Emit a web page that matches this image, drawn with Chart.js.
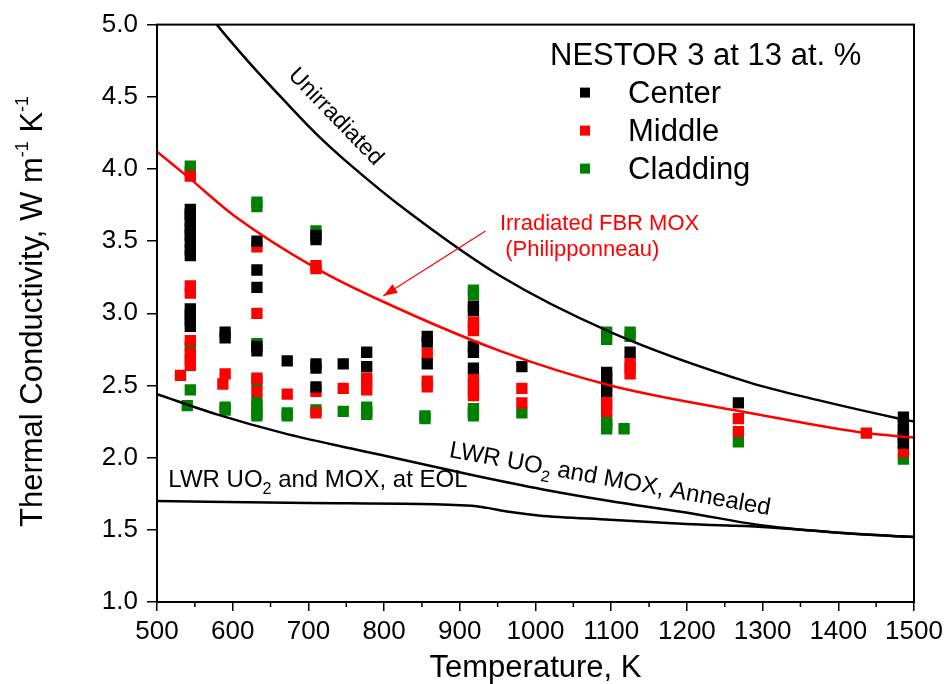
<!DOCTYPE html>
<html>
<head>
<meta charset="utf-8">
<script src="https://cdn.jsdelivr.net/npm/chart.js@4.4.0/dist/chart.umd.min.js"></script>
<style>
  html, body { margin: 0; padding: 0; background: #fff; }
  #wrap { width: 950px; height: 684px; position: relative; }
</style>
</head>
<body>
<div id="wrap"><canvas id="thermalChart"></canvas></div>
<script>
const FONT = '"Liberation Sans", Arial, sans-serif';

// Measured points, grouped by temperature column (K)
const centerTemp = [544, 590, 632, 672, 710, 746, 777, 857, 918, 982, 1094, 1125, 1268, 1486];
const centerK = [
  [3.72, 3.68, 3.64, 3.59, 3.54, 3.49, 3.44, 3.40, 3.03, 2.99, 2.95, 2.91],
  [2.87, 2.83],
  [3.50, 3.30, 3.18, 2.77, 2.74],
  [2.67],
  [3.54, 3.51, 2.65, 2.62, 2.49],
  [2.65],
  [2.73, 2.63],
  [2.84, 2.80, 2.65],
  [3.05, 3.02, 2.77, 2.73, 2.62],
  [2.63],
  [2.59, 2.55, 2.50, 2.46],
  [2.73],
  [2.38],
  [2.28, 2.24, 2.19, 2.14, 2.10]
];

const middleTemp = [531, 544, 587, 590, 632, 672, 710, 746, 777, 857, 918, 982, 1094, 1125, 1268, 1437, 1486];
const middleK = [
  [2.57],
  [3.95, 3.69, 3.57, 3.19, 3.14, 2.81, 2.72, 2.68, 2.64],
  [2.51],
  [2.58],
  [3.46, 3.00, 2.55, 2.46],
  [2.44],
  [3.33, 3.31, 2.46, 2.31],
  [2.48],
  [2.55, 2.52, 2.47],
  [2.72, 2.53, 2.49],
  [2.94, 2.91, 2.88, 2.55, 2.51, 2.47, 2.43],
  [2.48, 2.38],
  [2.40, 2.36, 2.32],
  [2.66, 2.62, 2.58],
  [2.27, 2.18],
  [2.17],
  [2.16, 2.04]
];

const claddingTemp = [540, 544, 590, 632, 672, 710, 746, 777, 854, 918, 982, 1094, 1117, 1125, 1268, 1486];
const claddingK = [
  [2.36],
  [4.02, 3.98, 2.77, 2.47],
  [2.35, 2.33],
  [3.77, 3.74, 2.79, 2.53, 2.39, 2.35, 2.31, 2.29],
  [2.31, 2.29],
  [3.57, 2.33],
  [2.32],
  [2.35, 2.32, 2.30],
  [2.29, 2.27],
  [3.16, 3.13, 2.34, 2.31, 2.29],
  [2.31],
  [2.87, 2.82, 2.26, 2.23, 2.20],
  [2.20],
  [2.87, 2.84],
  [2.11],
  [2.10, 1.99]
];

// Reference curves
const unirrT = [560, 579, 623, 667, 711, 755, 830, 953, 1099, 1283, 1372, 1481, 1500];
const unirrK = [5.13, 5.0, 4.73, 4.48, 4.24, 4.03, 3.71, 3.26, 2.87, 2.52, 2.40, 2.27, 2.25];

const philT = [500, 542, 601, 711, 799, 953, 1099, 1283, 1437, 1500];
const philK = [4.12, 3.94, 3.68, 3.31, 3.08, 2.74, 2.50, 2.31, 2.17, 2.14];

const annealT = [500, 579, 667, 755, 795, 916, 1010, 1098, 1199, 1300, 1400, 1500];
const annealK = [2.44, 2.30, 2.17, 2.065, 2.02, 1.88, 1.78, 1.70, 1.62, 1.53, 1.48, 1.45];

const eolT = [500, 700, 916, 936, 965, 1004, 1098, 1199, 1300, 1400, 1500];
const eolK = [1.70, 1.685, 1.667, 1.652, 1.625, 1.60, 1.57, 1.54, 1.52, 1.48, 1.45];

const xTicks = [500, 1500, 100];
const yTicks = [1.0, 5.0, 0.5];

function columnsToPoints(temps, vals){
  let pts = [];
  for(let i=0; i<temps.length; i++){
    for(let j=0; j<vals[i].length; j++){
      pts.push({x: temps[i], y: vals[i][j]});
    }
  }
  return pts;
}

function curvePoints(xs, ys){
  let pts = [];
  for(let i=0; i<xs.length; i++) pts.push({x: xs[i], y: ys[i]});
  return pts;
}

function curve(xs, ys, color){
  return {
    data: curvePoints(xs, ys),
    showLine: true,
    borderColor: color,
    borderWidth: 2.5,
    pointRadius: 0,
    cubicInterpolationMode: 'monotone',
    fill: false
  };
}

function markers(temps, vals, color){
  return {
    data: columnsToPoints(temps, vals),
    pointStyle: 'rect',
    pointRadius: 8,
    pointBorderWidth: 0,
    backgroundColor: color,
    pointBackgroundColor: color,
    showLine: false
  };
}

// draws text pieces (for sub/superscripts) along one baseline
function drawRich(ctx, x, y, angle, segs, align){
  ctx.save();
  ctx.translate(x, y);
  ctx.rotate(angle * Math.PI / 180);
  let total = 0;
  for(let s of segs){
    ctx.font = s.size + 'px ' + FONT;
    s.w = ctx.measureText(s.t).width;
    total += s.w;
  }
  let cx = align === 'center' ? -total / 2 : 0;
  ctx.textBaseline = 'alphabetic';
  ctx.textAlign = 'left';
  for(let s of segs){
    ctx.font = s.size + 'px ' + FONT;
    ctx.fillStyle = s.color || '#000';
    ctx.fillText(s.t, cx, s.dy || 0);
    cx += s.w;
  }
  ctx.restore();
}

const decorPlugin = {
  id: 'decor',
  afterDraw(chart){
    const ctx = chart.ctx;
    const a = chart.chartArea;
    const xs = chart.scales.x, ys = chart.scales.y;
    const px = v => xs.getPixelForValue(v);
    const py = v => ys.getPixelForValue(v);

    ctx.save();
    // frame
    ctx.strokeStyle = '#000';
    ctx.lineWidth = 2;
    ctx.strokeRect(a.left, a.top, a.right - a.left, a.bottom - a.top);

    // minor ticks on x
    ctx.lineWidth = 1.5;
    ctx.beginPath();
    for(let t = xTicks[0] + xTicks[2] / 2; t < xTicks[1]; t += xTicks[2]){
      ctx.moveTo(px(t), a.bottom);
      ctx.lineTo(px(t), a.bottom + 5);
    }
    ctx.stroke();

    // arrow to Philipponneau curve
    let x0 = px(934), y0 = py(3.57), x1 = px(799), y1 = py(3.12);
    ctx.strokeStyle = '#ff0000';
    ctx.fillStyle = '#ff0000';
    ctx.lineWidth = 1.2;
    ctx.beginPath();
    ctx.moveTo(x0, y0);
    ctx.lineTo(x1, y1);
    ctx.stroke();
    let ang = Math.atan2(y1 - y0, x1 - x0);
    ctx.beginPath();
    ctx.moveTo(x1, y1);
    ctx.lineTo(x1 - 14 * Math.cos(ang) + 5 * Math.sin(ang), y1 - 14 * Math.sin(ang) - 5 * Math.cos(ang));
    ctx.lineTo(x1 - 14 * Math.cos(ang) - 5 * Math.sin(ang), y1 - 14 * Math.sin(ang) + 5 * Math.cos(ang));
    ctx.closePath();
    ctx.fill();

    // curve labels
    drawRich(ctx, px(953), py(3.574), 0, [{t: 'Irradiated FBR MOX', size: 22, color: '#ff0000'}]);
    drawRich(ctx, px(960), py(3.40), 0, [{t: '(Philipponneau)', size: 22, color: '#ff0000'}]);

    ctx.save();
    ctx.translate(px(736), py(4.36));
    ctx.rotate(46 * Math.PI / 180);
    ctx.font = '23px ' + FONT;
    ctx.fillStyle = '#000';
    ctx.textAlign = 'center';
    ctx.textBaseline = 'middle';
    ctx.fillText('Unirradiated', 0, 0);
    ctx.restore();

    drawRich(ctx, px(885), py(2.005), 10.3, [
      {t: 'LWR UO', size: 24}, {t: '2', size: 16, dy: 7}, {t: ' and MOX, Annealed', size: 24}
    ]);
    drawRich(ctx, px(515), py(1.80), 0, [
      {t: 'LWR UO', size: 24}, {t: '2', size: 16, dy: 7}, {t: ' and MOX, at EOL', size: 24}
    ]);

    // legend
    const lx = a.left + 393, ly = a.top + 40;
    drawRich(ctx, lx, ly, 0, [{t: 'NESTOR 3 at 13 at. %', size: 31}]);
    const items = [['Center', '#000000'], ['Middle', '#ff0000'], ['Cladding', '#008000']];
    for(let i=0; i<items.length; i++){
      let by = ly + 38 + i * 38;
      ctx.fillStyle = items[i][1];
      ctx.fillRect(lx + 30, by - 15, 10, 10);
      drawRich(ctx, lx + 78, by, 0, [{t: items[i][0], size: 31}]);
    }

    // axis titles
    drawRich(ctx, (a.left + a.right) / 2, 677, 0, [{t: 'Temperature, K', size: 31}], 'center');
    drawRich(ctx, 41.7, 527, -90, [
      {t: 'Thermal Conductivity, W m', size: 31}, {t: '-1', size: 18, dy: -14},
      {t: ' K', size: 31}, {t: '-1', size: 18, dy: -14}
    ]);
    ctx.restore();
  }
};

const tickFont = {size: 26, family: FONT};

new Chart(document.getElementById('thermalChart').getContext('2d'), {
  type: 'scatter',
  data: {
    datasets: [
      curve(unirrT, unirrK, '#000000'),
      curve(philT, philK, '#ff0000'),
      curve(annealT, annealK, '#000000'),
      curve(eolT, eolK, '#000000'),
      markers(centerTemp, centerK, '#000000'),
      markers(middleTemp, middleK, '#ff0000'),
      markers(claddingTemp, claddingK, '#008000')
    ]
  },
  options: {
    responsive: true,
    maintainAspectRatio: false,
    animation: false,
    layout: {padding: {top: 23, right: 36, left: 0, bottom: 0}},
    plugins: {legend: {display: false}, tooltip: {enabled: false}},
    scales: {
      x: {
        type: 'linear', min: xTicks[0], max: xTicks[1],
        ticks: {stepSize: xTicks[2], font: tickFont, color: '#000', padding: 5, maxRotation: 0, autoSkip: false,
          callback: v => String(v)},
        grid: {drawOnChartArea: false, tickLength: 9, color: '#000', lineWidth: 1.5},
        border: {color: '#000', width: 2},
        afterFit: s => { s.height = 82; }
      },
      y: {
        type: 'linear', min: yTicks[0], max: yTicks[1],
        ticks: {stepSize: yTicks[2], font: tickFont, color: '#000', padding: 9, callback: v => v.toFixed(1)},
        grid: {drawOnChartArea: false, tickLength: 10, color: '#000', lineWidth: 1.5},
        border: {color: '#000', width: 2},
        afterFit: s => { s.width = 157; }
      }
    }
  },
  plugins: [decorPlugin]
});
</script>
</body>
</html>
